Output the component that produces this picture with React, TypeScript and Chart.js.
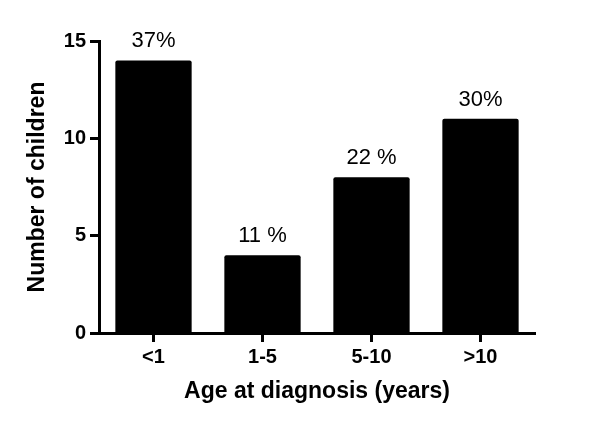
import React, { useEffect, useRef } from "react";
import { Chart, registerables } from "chart.js";

Chart.register(...registerables);

const categories = ["<1", "1-5", "5-10", ">10"];
const counts = [14, 4, 8, 11];
const percentLabels = ["37%", "11 %", "22 %", "30%"];
const yTicks = [0, 5, 10, 15];

const FONT = "'Liberation Sans', Arial, sans-serif";

const barLabelPlugin = {
  id: "barLabels",
  afterDatasetsDraw(chart: any) {
    const ctx = chart.ctx;
    const meta = chart.getDatasetMeta(0);
    ctx.save();
    ctx.fillStyle = "#000";
    ctx.font = `22px ${FONT}`;
    ctx.textAlign = "center";
    ctx.textBaseline = "alphabetic";
    meta.data.forEach((bar: any, i: number) => {
      ctx.fillText(percentLabels[i], bar.x, bar.y - 13);
    });
    ctx.restore();
  },
};

export default function App() {
  const ref = useRef<HTMLCanvasElement | null>(null);
  useEffect(() => {
    if (!ref.current) return;
    const chart = new Chart(ref.current, {
      type: "bar",
      data: {
        labels: categories,
        datasets: [
          {
            data: counts,
            backgroundColor: "#000",
            borderWidth: 0,
            borderRadius: 2,
            borderSkipped: "bottom",
            categoryPercentage: 1,
            barPercentage: 0.7,
          },
        ],
      },
      options: {
        animation: false,
        responsive: false,
        maintainAspectRatio: false,
        layout: { padding: { top: 41, right: 65, left: 0, bottom: 0 } },
        plugins: { legend: { display: false }, tooltip: { enabled: false } },
        scales: {
          x: {
            offset: true,
            afterFit: (s: any) => {
              s.height = 93;
            },
            grid: {
              display: true,
              offset: false,
              drawOnChartArea: false,
              drawTicks: true,
              tickLength: 9,
              tickWidth: 3,
              tickColor: "#000",
              color: "#000",
            },
            border: { display: true, color: "#000", width: 3 },
            ticks: {
              color: "#000",
              padding: 3,
              font: { family: FONT, size: 20, weight: "bold" },
            },
            title: {
              display: true,
              text: "Age at diagnosis (years)",
              color: "#000",
              font: { family: FONT, size: 23, weight: "bold" },
              padding: { top: 0, bottom: 21 },
            },
          },
          y: {
            min: 0,
            max: 15,
            afterFit: (s: any) => {
              s.width = 99;
            },
            afterBuildTicks: (s: any) => {
              s.ticks = yTicks.map((v) => ({ value: v }));
            },
            grid: {
              display: true,
              drawOnChartArea: false,
              drawTicks: true,
              tickLength: 9,
              tickWidth: 3,
              tickColor: "#000",
              color: "#000",
            },
            border: { display: true, color: "#000", width: 3 },
            ticks: {
              color: "#000",
              padding: 4,
              font: { family: FONT, size: 20, weight: "bold" },
            },
            title: {
              display: true,
              text: "Number of children",
              color: "#000",
              font: { family: FONT, size: 23, weight: "bold" },
              padding: { top: 24, bottom: 0 },
            },
          },
        },
      },
      plugins: [barLabelPlugin],
    });
    return () => chart.destroy();
  }, []);
  return (
    <div style={{ position: "absolute", left: 0, top: 0, width: 600, height: 426, background: "#fff" }}>
      <canvas ref={ref} width={600} height={426} style={{ width: 600, height: 426 }} />
    </div>
  );
}
